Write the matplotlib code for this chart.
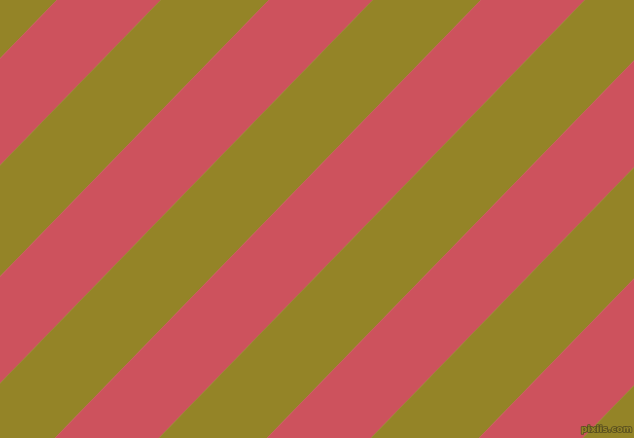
import numpy as np
import matplotlib
matplotlib.use("Agg")
import matplotlib.pyplot as plt
import matplotlib.patheffects as pe

W, H = 634, 438

# stripe layout, measured across the stripes (pixels)
angle_deg = 45.8
band_colors = ["#948427", "#cd525d"]   # olive, red
band_widths = [77.5, 74.5]
first_edge = 40.8   # first olive->red edge, in distance across stripes
watermark = "pixiis.com"

fig = plt.figure(figsize=(W / 100, H / 100), dpi=100)
ax = fig.add_axes([0, 0, 1, 1])
ax.set_xlim(0, W)
ax.set_ylim(H, 0)
ax.axis("off")

a = np.radians(angle_deg)
n = np.array([np.sin(a), np.cos(a)])    # normal to the stripes
d = np.array([np.cos(a), -np.sin(a)])   # along the stripes
period = sum(band_widths)
umax = W * n[0] + H * n[1]

u = first_edge - period
k = 0
while u < umax + period:
    for i, (c, w) in enumerate(zip(band_colors[::-1], band_widths[::-1])):
        u0, u1 = u, u + w
        L = 2000
        p0 = n * u0 - d * L
        p1 = n * u0 + d * L
        p2 = n * u1 + d * L
        p3 = n * u1 - d * L
        xs = [p0[0], p1[0], p2[0], p3[0]]
        ys = [p0[1], p1[1], p2[1], p3[1]]
        ax.fill(xs, ys, color=c, lw=0.3, ec=c)
        u = u1

# olive background behind first edge handled by loop starting one period early
ax.text(632, 434, watermark, ha="right", va="bottom", fontsize=6.5,
        color=band_colors[0], fontweight="bold",
        path_effects=[pe.withStroke(linewidth=1.2, foreground="#5a5020")])

fig.savefig("out.png", dpi=100)
